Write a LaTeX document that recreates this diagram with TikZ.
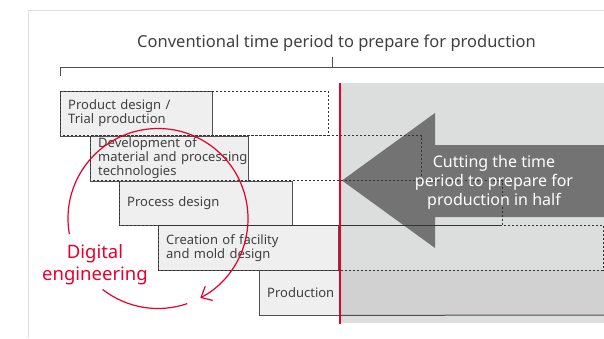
\documentclass[tikz,border=0pt]{standalone}
\usepackage{fontspec}
\setmainfont{Noto Sans}
\definecolor{cutred}{RGB}{230, 0, 45}
\definecolor{framegray}{RGB}{224, 224, 224}
\definecolor{boxfill}{RGB}{239, 239, 239}
\definecolor{boxline}{RGB}{80, 80, 80}
\definecolor{textgray}{RGB}{64, 64, 64}
\definecolor{shortgray}{RGB}{220, 221, 221}
\definecolor{prodgray}{RGB}{208, 209, 208}
\definecolor{arrowgray}{RGB}{115, 115, 115}
\usetikzlibrary{arrows.meta, calc}
\newcommand{\stagefont}{\fontsize{13}{12.7}\selectfont\hyphenpenalty=10000\relax\exhyphenpenalty=10000\relax\hbadness=10000\relax\hfuzz=20pt\relax}

\begin{document}
\begin{tikzpicture}[x=1pt, y=-1pt,
  stage/.style={draw=boxline, fill=boxfill, anchor=north west, minimum height=44.8pt, inner xsep=8pt, inner ysep=0pt, align=left, text=textgray, font=\stagefont, text width=#1},
  oldspan/.style={draw=black!80, line width=0.8pt, dash pattern=on 2pt off 2pt}
]
  \useasboundingbox (0,0) rectangle (604,338);

  % Frame and bracket
  \draw[framegray, line width=1pt] (28,338) -- (28,10) -- (604,10);
  \node[font=\fontsize{16.5}{19}\selectfont, text=textgray, anchor=base] (title) at (336.5,47.3) {Conventional time period to prepare for production};
  \draw[boxline, line width=1pt] (60,76) -- (60,67) -- (604,67);
  \draw[boxline, line width=1pt] (332,67) -- (332,57);

  % Shortened period
  \fill[shortgray] (340,83) rectangle (604,323);
  \fill[prodgray] (340,270.2) rectangle (604,315);
  \fill[arrowgray] (342,180.5) -- (435,113) -- (435,145) -- (604,145) -- (604,217) -- (435,217) -- (435,248) -- cycle;

  % Stages
  \node[stage=136pt] (design) at (60,91) {Product design /\\Trial production};
  \node[stage=142pt] (material) at (90,135.8) {Development of\\\mbox{material and processing}\\technologies};
  \node[stage=157pt] (process) at (119,180.6) {Process design};
  \node[stage=164pt] (facility) at (158,225.4) {Creation of facility\\and mold design};
  \node[stage=65pt] (production) at (259,270.2) {Production};
  \draw[boxline, line width=1pt] (production.south east) -- (604,315);

  % Conventional periods
  \draw[oldspan] (design.north west) rectangle (328,135.8);
  \draw[oldspan] (material.north west) rectangle (421,180.6);
  \draw[oldspan] (process.north west) rectangle (502,225.4);
  \draw[oldspan] (facility.north west) rectangle (603,270.2);

  \node[text=white, align=center, font=\fontsize{16}{19}\selectfont] (cut) at (494,182) {Cutting the time\\period to prepare for\\production in half};
  \draw[cutred, line width=2pt] (340,83) -- (340,323.5);

  % Digital engineering loop
  \coordinate (loop) at (158,218.5);
  \draw[cutred, line width=1.2pt, -{Straight Barb[length=9pt, width=16pt]}] ([shift={(190:90pt)}]loop) arc[start angle=190, end angle=-62, radius=90pt];
  \draw[cutred, line width=1.2pt] ([shift={(-71:90pt)}]loop) arc[start angle=-71, end angle=-128, radius=90pt];
  \node[text=cutred, align=center, font=\fontsize{18.5}{22}\selectfont] (digital) at (95,265) {Digital\\engineering};
\end{tikzpicture}
\end{document}
